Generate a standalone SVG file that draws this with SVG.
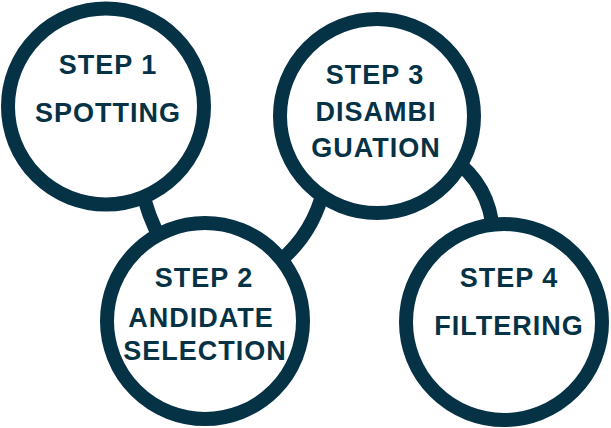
<svg xmlns="http://www.w3.org/2000/svg" width="611" height="428" viewBox="0 0 611 428">
<style>
.ring{fill:#ffffff;stroke:#063246;stroke-width:14}
.conn{fill:none;stroke:#063246;stroke-width:14;stroke-linecap:butt}
.lbl{font-family:"Liberation Sans",Arial,sans-serif;font-weight:bold;font-size:27px;fill:#063246;text-anchor:middle;letter-spacing:1px}
</style>
<rect width="611" height="428" fill="#ffffff"/>
<g id="connectors">
<path class="conn" d="M142,188 Q147,215 162,242"/>
<path class="conn" d="M268,270 Q312,240 324,188"/>
<path class="conn" d="M452,158 Q490,185 493,232"/>
</g>
<g id="step1">
<circle class="ring" cx="106" cy="106.5" r="98"/>
<text class="lbl" x="108" y="74">STEP 1</text>
<text class="lbl" x="108" y="122">SPOTTING</text>
</g>
<g id="step2">
<circle class="ring" cx="205" cy="321" r="98"/>
<text class="lbl" x="204" y="287">STEP 2</text>
<text class="lbl" x="201" y="327">ANDIDATE</text>
<text class="lbl" x="205" y="360">SELECTION</text>
</g>
<g id="step3">
<circle class="ring" cx="377" cy="116" r="97"/>
<text class="lbl" x="375" y="84">STEP 3</text>
<text class="lbl" x="376" y="121">DISAMBI</text>
<text class="lbl" x="376" y="157">GUATION</text>
</g>
<g id="step4">
<circle class="ring" cx="504" cy="322" r="98"/>
<text class="lbl" x="509" y="287">STEP 4</text>
<text class="lbl" x="509" y="335">FILTERING</text>
</g>
</svg>
